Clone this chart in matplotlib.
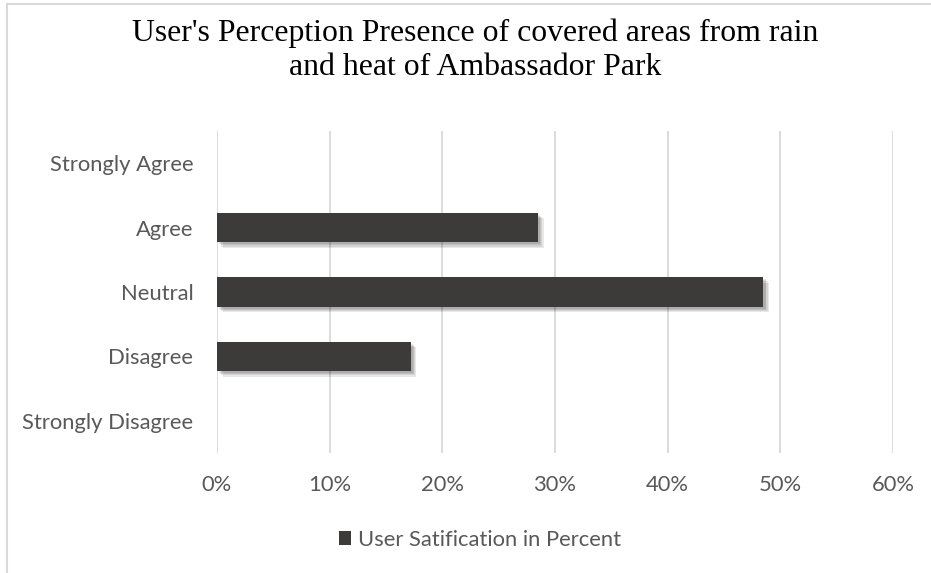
import matplotlib
matplotlib.use("Agg")
import matplotlib.pyplot as plt
from matplotlib import patheffects as pe
from matplotlib.lines import Line2D
from matplotlib.patches import Patch
from matplotlib.ticker import FuncFormatter, MultipleLocator

categories = ["Strongly Disagree", "Disagree", "Neutral", "Agree", "Strongly Agree"]
values = [0.0, 17.2, 48.5, 28.5, 0.0]
series_name = "User Satification in Percent"
title = "User's Perception Presence of covered areas from rain\nand heat of Ambassador Park"

bar_color = "#3c3b39"
text_color = "#595959"
grid_color = "#d9d9d9"
sans = ["Lato", "DejaVu Sans"]
fs = 15.8

fig = plt.figure(figsize=(9.31, 5.73), dpi=100)
ax = fig.add_axes([217/931, 1-453/573, (893-217)/931, (453-131)/573])

y = list(range(len(categories)))
bars = ax.barh(y, values, height=0.46, color=bar_color, zorder=3)
shadow = [pe.SimplePatchShadow(offset=(o, -o), shadow_rgbFace="black", alpha=0.09) for o in (4.0, 3.0, 2.2, 1.5)]
for b in bars:
    b.set_path_effects(shadow + [pe.Normal()])

ax.set_xlim(0, 60)
ax.set_ylim(-0.5, len(categories) - 0.5)
ax.xaxis.set_major_locator(MultipleLocator(10))
ax.xaxis.set_major_formatter(FuncFormatter(lambda v, p: f"{int(round(v))}%"))
ax.set_yticks(y)
ax.set_yticklabels(categories)
ax.grid(axis="x", color=grid_color, linewidth=1.3, zorder=0)
for s in ax.spines.values():
    s.set_visible(False)
ax.tick_params(axis="both", length=0, colors=text_color, labelsize=fs)
ax.tick_params(axis="x", pad=16)
ax.tick_params(axis="y", pad=17)
for lab in ax.get_xticklabels() + ax.get_yticklabels():
    lab.set_family(sans)

fig.text(475/931, 1-50/573, title, ha="center", va="center", family=["Liberation Serif"],
         fontsize=22.9, color="black", linespacing=1.25)

handle = Patch(facecolor=bar_color, edgecolor="none")
leg = fig.legend([handle], [series_name], loc="center", bbox_to_anchor=(480/931, 1-540/573),
                 frameon=False, prop={"family": sans, "size": fs}, handlelength=0.55,
                 handleheight=0.6, handletextpad=0.3, borderpad=0, borderaxespad=0)
for t in leg.get_texts():
    t.set_color(text_color)

# chart border (left and top visible)
fig.add_artist(Line2D([6.5/931, 6.5/931], [0, 1-3.5/573], transform=fig.transFigure, color=grid_color, linewidth=1.5))
fig.add_artist(Line2D([6.5/931, 1], [1-3.5/573, 1-3.5/573], transform=fig.transFigure, color=grid_color, linewidth=1.5))

fig.savefig("out.png", dpi=100, facecolor="white")
